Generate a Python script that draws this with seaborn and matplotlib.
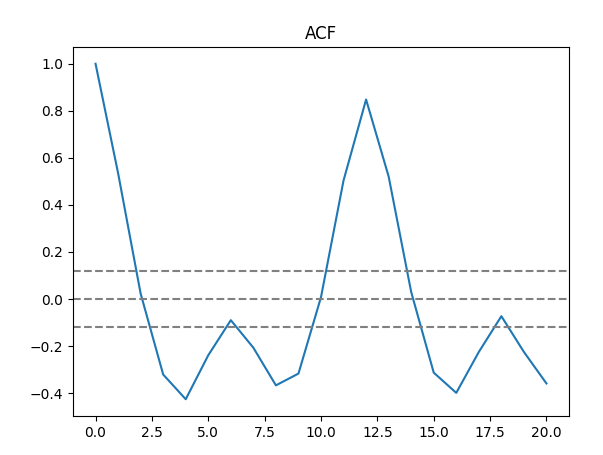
import numpy as np
import pandas as pd
import matplotlib
matplotlib.use("Agg")
import matplotlib.pyplot as plt
import seaborn as sns

# autocorrelation values
lags = list(range(21))
acf_values = [1.0, 0.535, 0.023, -0.321, -0.426, -0.239, -0.09, -0.207, -0.367, -0.317,
              0.008, 0.504, 0.848, 0.521, 0.030, -0.313, -0.399, -0.225, -0.073, -0.225, -0.359]
conf_bound = 0.119

def main():
    table = pd.DataFrame({"lag": lags, "acf": acf_values})

    fig = plt.figure(figsize=(6.03, 4.55), dpi=100)
    ax = fig.add_axes([73/603, 1 - 416/455, (569 - 73)/603, (416 - 47)/455])
    sns.lineplot(data=table, x="lag", y="acf", color="#1f77b4", ax=ax)
    ax.axhline(y=0, linestyle="--", color="gray")
    ax.axhline(y=conf_bound, linestyle="--", color="gray")
    ax.axhline(y=-conf_bound, linestyle="--", color="gray")
    ax.set_xlabel("")
    ax.set_ylabel("")
    ax.set_title("ACF")
    fig.savefig("out.png", dpi=100)

if __name__ == '__main__':
    main()
